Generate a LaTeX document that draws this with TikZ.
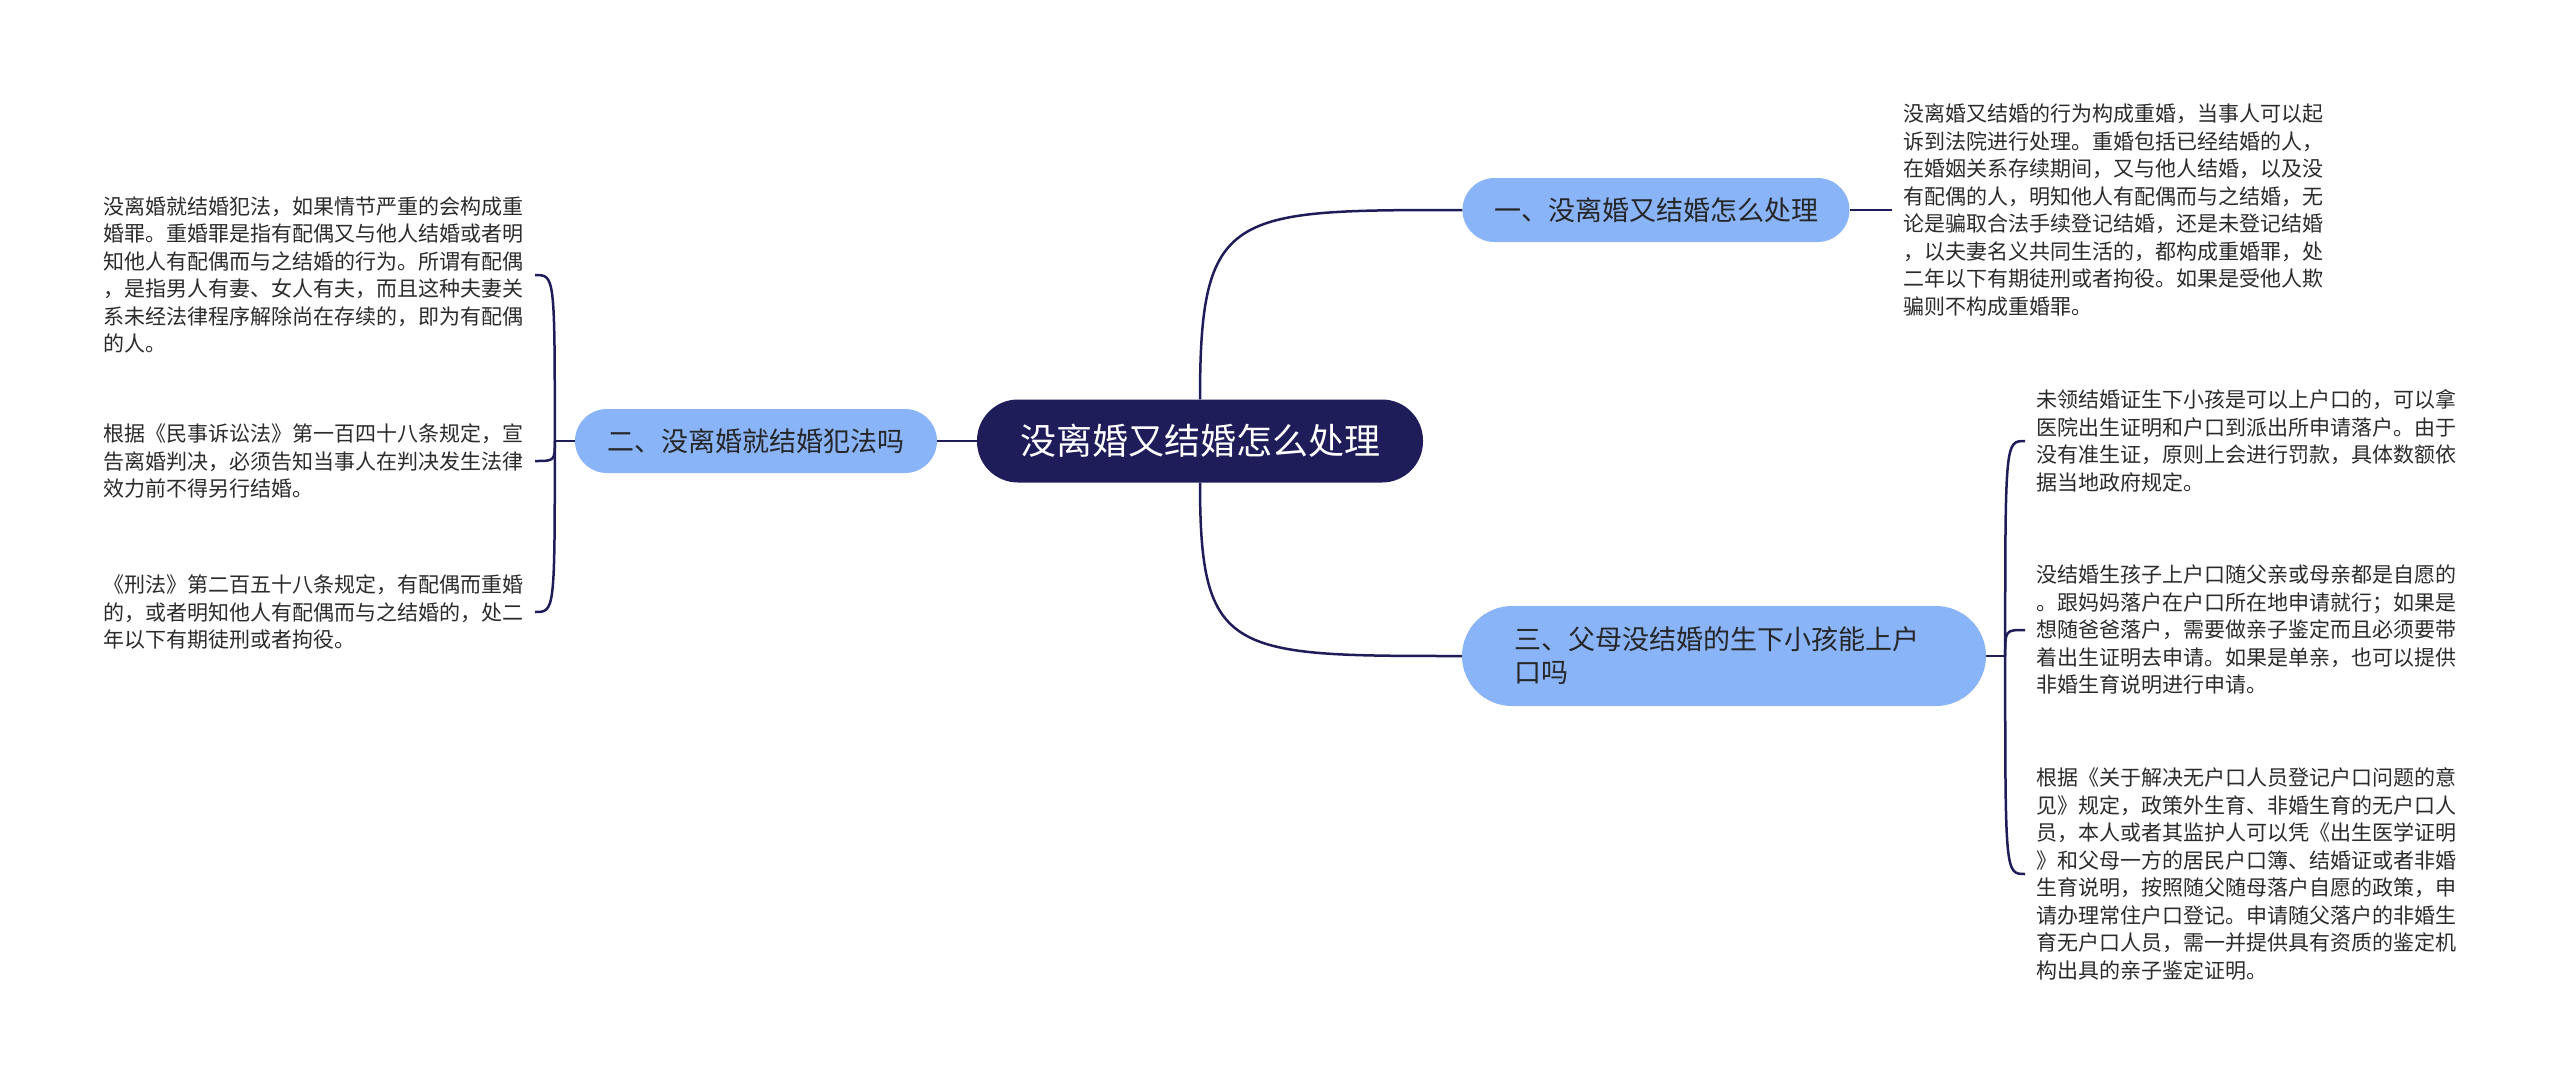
\documentclass[tikz,border=0pt]{standalone}
\usepackage{fontspec}
\newfontfamily\cjk{Noto Sans CJK SC}
\usetikzlibrary{calc}
\definecolor{navy}{HTML}{1E1D5A}
\definecolor{topicblue}{HTML}{8AB4F8}
\definecolor{leafgray}{HTML}{2B2B2B}

\tikzset{
  rootbox/.style={fill=navy, text=white, rounded corners=41pt, minimum width=446pt,
    minimum height=83pt, inner sep=0pt, font=\cjk\fontsize{36}{43}\selectfont},
  topicbox/.style={fill=topicblue, text=black!85, rounded corners=32pt, minimum height=64pt,
    inner sep=0pt, font=\cjk\fontsize{27}{33}\selectfont},
  leaftext/.style={text=leafgray, align=left, inner xsep=11pt, inner ysep=0pt,
    font=\cjk\fontsize{21}{27.5}\selectfont},
  branchline/.style={navy, line width=2.5pt},
}

\begin{document}
\begin{tikzpicture}[x=1pt, y=-1pt]
    \useasboundingbox (0,0) rectangle (2560,1082);

    % Central topic
    \node[rootbox] (root) at (1200,441) {没离婚又结婚怎么处理};

    % Main topics
    \node[topicbox, minimum width=387pt] (t1) at (1656,210) {一、没离婚又结婚怎么处理};
    \node[topicbox, minimum width=362pt] (t2) at (756,441) {二、没离婚就结婚犯法吗};
    \node[topicbox, minimum height=100pt, rounded corners=50pt, text width=420pt,
      align=left, inner xsep=52pt] (t3) at (1724,656) {三、父母没结婚的生下小孩能上户\\口吗};

    % Leaf texts, left
    \node[leaftext, anchor=east] (l1) at (535,275) {没离婚就结婚犯法，如果情节严重的会构成重\\婚罪。重婚罪是指有配偶又与他人结婚或者明\\知他人有配偶而与之结婚的行为。所谓有配偶\\，是指男人有妻、女人有夫，而且这种夫妻关\\系未经法律程序解除尚在存续的，即为有配偶\\的人。};
    \node[leaftext, anchor=east] (l2) at (535,461) {根据《民事诉讼法》第一百四十八条规定，宣\\告离婚判决，必须告知当事人在判决发生法律\\效力前不得另行结婚。};
    \node[leaftext, anchor=east] (l3) at (535,612) {《刑法》第二百五十八条规定，有配偶而重婚\\的，或者明知他人有配偶而与之结婚的，处二\\年以下有期徒刑或者拘役。};

    % Leaf texts, right
    \node[leaftext, anchor=west] (r1) at (1892,210) {没离婚又结婚的行为构成重婚，当事人可以起\\诉到法院进行处理。重婚包括已经结婚的人，\\在婚姻关系存续期间，又与他人结婚，以及没\\有配偶的人，明知他人有配偶而与之结婚，无\\论是骗取合法手续登记结婚，还是未登记结婚\\，以夫妻名义共同生活的，都构成重婚罪，处\\二年以下有期徒刑或者拘役。如果是受他人欺\\骗则不构成重婚罪。};
    \node[leaftext, anchor=west] (ra) at (2025,441) {未领结婚证生下小孩是可以上户口的，可以拿\\医院出生证明和户口到派出所申请落户。由于\\没有准生证，原则上会进行罚款，具体数额依\\据当地政府规定。};
    \node[leaftext, anchor=west] (rb) at (2025,630) {没结婚生孩子上户口随父亲或母亲都是自愿的\\。跟妈妈落户在户口所在地申请就行；如果是\\想随爸爸落户，需要做亲子鉴定而且必须要带\\着出生证明去申请。如果是单亲，也可以提供\\非婚生育说明进行申请。};
    \node[leaftext, anchor=west] (rc) at (2025,874) {根据《关于解决无户口人员登记户口问题的意\\见》规定，政策外生育、非婚生育的无户口人\\员，本人或者其监护人可以凭《出生医学证明\\》和父母一方的居民户口簿、结婚证或者非婚\\生育说明，按照随父随母落户自愿的政策，申\\请办理常住户口登记。申请随父落户的非婚生\\育无户口人员，需一并提供具有资质的鉴定机\\构出具的亲子鉴定证明。};

    % Connectors
    \coordinate (j2) at ($(t2.west)+(-20,0)$);
    \coordinate (j3) at ($(t3.east)+(19,0)$);
    \draw[branchline] (root.west) -- (t2.east);
    \draw[branchline] (root.north) .. controls (root.north |- t1.west) and ($(root.north |- t1.west)+(30,0)$) .. (t1.west);
    \draw[branchline] (root.south) .. controls (root.south |- t3.west) and ($(root.south |- t3.west)+(30,0)$) .. (t3.west);
    \draw[branchline] (t1.east) -- (r1.west);
    \draw[branchline] (t2.west) -- (j2);
    \draw[branchline] (t3.east) -- (j3);
    \foreach \leaf in {l1,l2,l3}
        \draw[branchline] (j2) .. controls (j2 |- \leaf.east) and (j2 |- \leaf.east) .. (\leaf.east);
    \foreach \leaf in {ra,rb,rc}
        \draw[branchline] (j3) .. controls (j3 |- \leaf.west) and (j3 |- \leaf.west) .. (\leaf.west);
\end{tikzpicture}
\end{document}
